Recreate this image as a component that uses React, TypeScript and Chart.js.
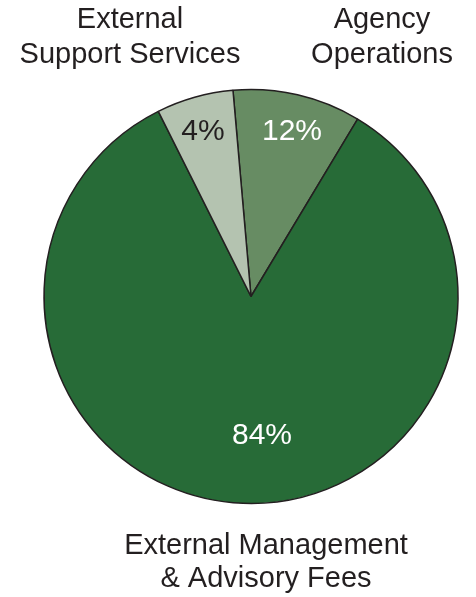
import React, { useEffect, useRef } from "react";
import { Chart, registerables } from "chart.js";

Chart.register(...registerables);

const categories = ["Agency Operations", "External Management & Advisory Fees", "External Support Services"];
const values = [10, 84, 6];
const percentLabels = ["12%", "84%", "4%"];
const sliceColors = ["#678c63", "#276b37", "#b4c3b0"];
const percentColors = ["#ffffff", "#ffffff", "#231f20"];

const outerLabels = [
  { lines: ["Agency", "Operations"], x: 382, y: [20, 55] },
  { lines: ["External Management", "& Advisory Fees"], x: 266, y: [546, 579] },
  { lines: ["External", "Support Services"], x: 130, y: [20, 55] },
];
// offsets of the percentage texts relative to the pie centre
const percentOffsets = [
  { dx: 41, dy: -165 },
  { dx: 11, dy: 139 },
  { dx: -48, dy: -165 },
];

const labelPlugin = {
  id: "labelPlugin",
  afterDraw(chart: any) {
    const ctx = chart.ctx;
    const meta = chart.getDatasetMeta(0);
    const arc = meta.data[0];
    const cx = arc.x;
    const cy = arc.y;
    ctx.save();
    ctx.textAlign = "center";
    ctx.textBaseline = "middle";
    ctx.font = "30px 'Liberation Sans', Arial, sans-serif";
    percentLabels.forEach((t, i) => {
      ctx.fillStyle = percentColors[i];
      ctx.fillText(t, cx + percentOffsets[i].dx, cy + percentOffsets[i].dy);
    });
    ctx.font = "29px 'Liberation Sans', Arial, sans-serif";
    ctx.fillStyle = "#231f20";
    outerLabels.forEach((l) => {
      l.lines.forEach((line, j) => ctx.fillText(line, l.x, l.y[j]));
    });
    ctx.restore();
  },
};

export default function App() {
  const ref = useRef<HTMLCanvasElement>(null);
  useEffect(() => {
    if (!ref.current) return;
    const chart = new Chart(ref.current, {
      type: "pie",
      data: {
        labels: categories,
        datasets: [
          {
            data: values,
            backgroundColor: sliceColors,
            borderColor: "#231f20",
            borderWidth: 1.5,
          },
        ],
      },
      options: {
        animation: false,
        responsive: false,
        rotation: -5,
        radius: 207,
        layout: { padding: { left: 44, right: 18, top: 89, bottom: 93 } },
        plugins: { legend: { display: false }, tooltip: { enabled: false } },
      },
      plugins: [labelPlugin],
    });
    return () => chart.destroy();
  }, []);
  return (
    <div style={{ position: "fixed", left: 0, top: 0, width: 476, height: 597, background: "#fff" }}>
      <canvas ref={ref} width={476} height={597} style={{ width: 476, height: 597, display: "block" }} />
    </div>
  );
}
